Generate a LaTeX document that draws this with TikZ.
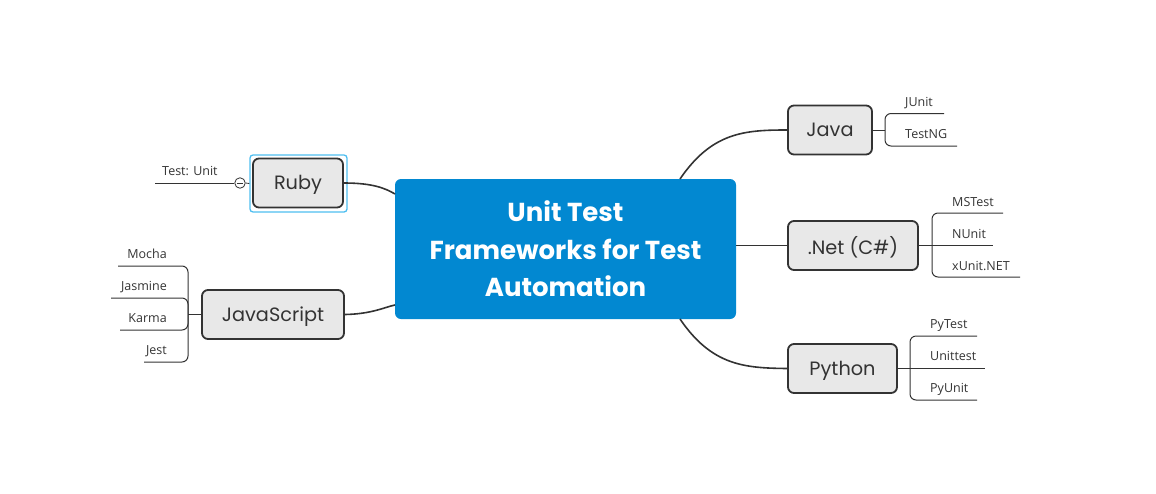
\documentclass[tikz,border=0pt]{standalone}
\usepackage{fontspec}
\setmainfont{Open Sans}
\newfontfamily\popfont{Poppins}
\usetikzlibrary{calc}
\definecolor{centralblue}{RGB}{2,136,209}
\definecolor{boxfill}{RGB}{232,232,232}
\definecolor{boxline}{RGB}{51,51,51}
\definecolor{selblue}{RGB}{79,190,240}
\definecolor{leaftext}{RGB}{51,51,51}
\tikzset{
  central/.style={draw=none, fill=centralblue, rounded corners=6pt, minimum width=341pt, minimum height=140pt,
    text=white, align=center, font=\popfont\bfseries\fontsize{26}{37.5}\selectfont},
  topicbox/.style={draw=boxline, line width=1.8pt, fill=boxfill, rounded corners=6pt, minimum height=49pt,
    text=boxline, font=\popfont\fontsize{19.3}{22}\selectfont, inner sep=0pt, text depth=1pt},
  conn/.style={draw=boxline, line width=1.6pt},
  leafline/.style={draw=boxline, line width=1pt, rounded corners=6pt},
  leaf/.style={text=leaftext, font=\fontsize{12.5}{14}\selectfont, inner sep=0pt},
}
\begin{document}
\begin{tikzpicture}[x=1pt,y=-1pt]
\useasboundingbox (0,0) rectangle (1156,493);
% central
\node[central] (c) at (565.5,249) {Unit Test\\Frameworks for Test\\Automation};
% topics
\node[topicbox, minimum width=90pt] (ruby) at (298,183) {Ruby};
\node[draw=selblue, line width=1.3pt, rounded corners=3pt, minimum width=97pt, minimum height=57pt, inner sep=0pt] (rubysel) at (298.5,183.5) {};
\node[topicbox, minimum width=142pt] (js) at (273,314.5) {JavaScript};
\node[topicbox, minimum width=84pt] (java) at (830,130) {Java};
\node[topicbox, minimum width=130pt] (net) at (853,245.5) {.Net (C\#)};
\node[topicbox, minimum width=109pt] (py) at (842.5,368.5) {Python};
% connection points on central box
\coordinate (cjava) at (680,179);
\coordinate (cpy) at (680,319);
\coordinate (cruby) at (395,194);
\coordinate (cjs) at (395,305);
\draw[conn] (cjava) .. controls (712,132) and (745,130) .. (java.west);
\draw[conn] (cpy) .. controls (712,366) and (745,368) .. (py.west);
\draw[conn] (c.east |- net.west) -- (net.west);
\draw[conn] (ruby.east) .. controls (372,183) and (385,188) .. (cruby);
\draw[conn] (js.east) .. controls (372,314) and (385,307) .. (cjs);
% Ruby child
\node[draw=boxline, line width=0.8pt, circle, minimum size=10.5pt, inner sep=0pt, fill=white] (rubycol) at (240,183) {};
\draw[boxline, line width=0.8pt] ($(rubycol.center)+(-3.2,0)$) -- ($(rubycol.center)+(3.2,0)$);
\draw[boxline, line width=0.8pt] (rubycol.east) -- (rubysel.west);
\coordinate (tuend) at (155,183);
\draw[leafline] (rubycol.west) -- (tuend);
\node[leaf, anchor=base west] (tu) at (162,175) {Test: Unit};
% JavaScript children
\coordinate (jshub) at (188,314.5);
\draw[leafline] (js.west) -- (jshub);
\node[leaf, anchor=base east] (mocha) at (167,258) {Mocha};
\node[leaf, anchor=base east] (jasmine) at (167,290) {Jasmine};
\node[leaf, anchor=base east] (karma) at (167,322) {Karma};
\node[leaf, anchor=base east] (jest) at (167,354) {Jest};
\coordinate (mochaend) at (118,266);
\coordinate (jasmineend) at (111,298);
\coordinate (karmaend) at (120,330);
\coordinate (jestend) at (144,362);
\draw[leafline] (jshub) |- (mochaend);
\draw[leafline] (jshub) |- (jasmineend);
\draw[leafline] (jshub) |- (karmaend);
\draw[leafline] (jshub) |- (jestend);
% Java children
\coordinate (javahub) at (885,130);
\draw[leafline] (java.east) -- (javahub);
\node[leaf, anchor=base west] (junit) at (905,106) {JUnit};
\node[leaf, anchor=base west] (testng) at (905,138) {TestNG};
\coordinate (junitend) at (944,113.5);
\coordinate (testngend) at (957,146);
\draw[leafline] (javahub) |- (junitend);
\draw[leafline] (javahub) |- (testngend);
% .Net children
\coordinate (nethub) at (932,245.5);
\draw[leafline] (net.east) -- (nethub);
\node[leaf, anchor=base west] (mstest) at (952,206) {MSTest};
\node[leaf, anchor=base west] (nunit) at (952,238) {NUnit};
\node[leaf, anchor=base west] (xunit) at (952,270) {xUnit.NET};
\coordinate (mstestend) at (1003,213);
\coordinate (nunitend) at (993,245.5);
\coordinate (xunitend) at (1020,277);
\draw[leafline] (nethub) |- (mstestend);
\draw[leafline] (nethub) -- (nunitend);
\draw[leafline] (nethub) |- (xunitend);
% Python children
\coordinate (pyhub) at (910,368.5);
\draw[leafline] (py.east) -- (pyhub);
\node[leaf, anchor=base west] (pytest) at (930,328) {PyTest};
\node[leaf, anchor=base west] (unittest) at (930,360) {Unittest};
\node[leaf, anchor=base west] (pyunit) at (930,392) {PyUnit};
\coordinate (pytestend) at (977,336);
\coordinate (unittestend) at (985,368.5);
\coordinate (pyunitend) at (977,400);
\draw[leafline] (pyhub) |- (pytestend);
\draw[leafline] (pyhub) -- (unittestend);
\draw[leafline] (pyhub) |- (pyunitend);
\end{tikzpicture}
\end{document}
